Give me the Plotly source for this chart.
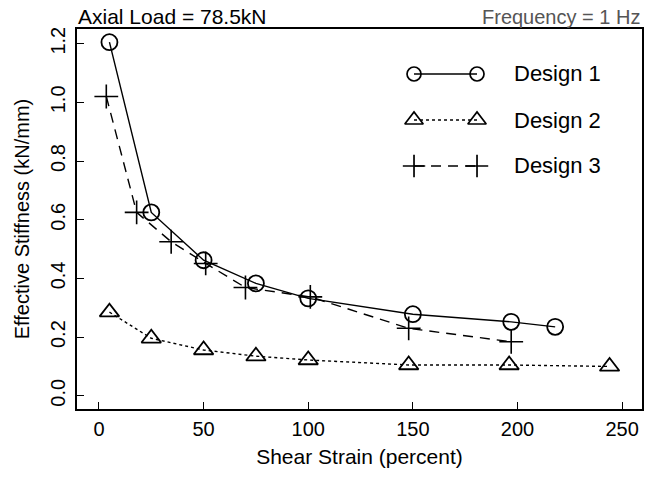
import plotly.graph_objects as go

# ---- data ----
d1_x = [5, 25, 50, 75, 100, 150, 197, 218]
d1_y = [1.205, 0.625, 0.462, 0.383, 0.332, 0.278, 0.252, 0.235]

d2_x = [5, 25, 50, 75, 100, 148, 196, 244]
d2_y = [0.285, 0.196, 0.156, 0.135, 0.122, 0.105, 0.105, 0.100]

d3_x = [3.5, 18, 34.5, 51, 70, 101, 148, 197]
d3_y = [1.02, 0.625, 0.525, 0.451, 0.369, 0.337, 0.23, 0.184]

x_ticks = [0, 50, 100, 150, 200, 250]
y_ticks = [0.0, 0.2, 0.4, 0.6, 0.8, 1.0, 1.2]
y_tick_text = ["0.0", "0.2", "0.4", "0.6", "0.8", "1.0", "1.2"]

series_names = ["Design 1", "Design 2", "Design 3"]

FONT = "Liberation Sans, Arial, sans-serif"
BLACK = "#000000"

fig = go.Figure()

fig.add_trace(go.Scatter(
    x=d1_x, y=d1_y, mode="lines+markers", name=series_names[0],
    line=dict(color=BLACK, width=1.4, dash="solid"),
    marker=dict(symbol="circle-open", size=16, color=BLACK, line=dict(width=1.8)),
    showlegend=False))
fig.add_trace(go.Scatter(
    x=d2_x, y=d2_y, mode="lines+markers", name=series_names[1],
    line=dict(color=BLACK, width=1.4, dash="3px,3px"),
    marker=dict(symbol="triangle-up-open", size=17, color=BLACK, line=dict(width=1.8)),
    showlegend=False))
fig.add_trace(go.Scatter(
    x=d3_x, y=d3_y, mode="lines+markers", name=series_names[2],
    line=dict(color=BLACK, width=1.4, dash="10px,7px"),
    marker=dict(symbol="cross-thin-open", size=17, color=BLACK, line=dict(width=1.6)),
    showlegend=False))

# ---- manual legend (overlay axes in plot-area fractions) ----
leg_rows = [0.8816, 0.7605, 0.6395]
leg_x = [0.5965, 0.708]
styles = [
    ("solid", "circle-open", 14),
    ("3px,3px", "triangle-up-open", 16),
    ("10px,7px", "cross-thin-open", 16),
]
for name, yy, (dash, sym, sz) in zip(series_names, leg_rows, styles):
    fig.add_trace(go.Scatter(
        x=leg_x, y=[yy, yy], xaxis="x2", yaxis="y2", mode="lines+markers",
        line=dict(color=BLACK, width=1.4, dash=dash),
        marker=dict(symbol=sym, size=sz, color=BLACK, line=dict(width=1.7)),
        showlegend=False, hoverinfo="skip"))
    fig.add_annotation(x=0.7735, y=yy, xref="x2", yref="y2", text=name,
                       showarrow=False, xanchor="left", yanchor="middle", xshift=-2,
                       font=dict(family=FONT, size=22, color=BLACK))

axis_common = dict(
    showgrid=False, zeroline=False, showline=True, linecolor=BLACK, linewidth=1.5,
    mirror=True, ticks="inside", ticklen=7, tickwidth=1.3, tickcolor=BLACK,
    tickfont=dict(family=FONT, size=20, color=BLACK), automargin=False,
)

fig.update_layout(
    width=658, height=478,
    margin=dict(l=77, r=16, t=29, b=69),
    paper_bgcolor="white", plot_bgcolor="white",
    xaxis=dict(range=[-10.5, 259.5], tickvals=x_ticks, ticklabelstandoff=1,
               title=dict(text="Shear Strain (percent)", font=dict(family=FONT, size=21, color=BLACK), standoff=11),
               **axis_common),
    yaxis=dict(range=[-0.045, 1.25], tickvals=y_ticks, ticktext=y_tick_text, tickangle=-90,
               ticklabelstandoff=2,
               title=dict(text="Effective Stiffness (kN/mm)", font=dict(family=FONT, size=20, color=BLACK), standoff=12),
               **axis_common),
    xaxis2=dict(overlaying="x", range=[0, 1], visible=False),
    yaxis2=dict(overlaying="y", range=[0, 1], visible=False),
    showlegend=False,
)

fig.add_annotation(x=0, y=1, xref="paper", yref="paper", text="Axial Load = 78.5kN",
                   showarrow=False, xanchor="left", yanchor="bottom", yshift=-1, xshift=-1,
                   font=dict(family=FONT, size=21, color=BLACK))
fig.add_annotation(x=1, y=1, xref="paper", yref="paper", text="Frequency = 1 Hz",
                   showarrow=False, xanchor="right", yanchor="bottom", yshift=-1,
                   font=dict(family=FONT, size=20, color="#555555"))

# remove the browser's default 8px body margin so the figure fills the window
fig.write_html("out.html",
               config={"displayModeBar": False},
               post_script="document.body.style.margin='0px'; document.body.style.overflow='hidden';")
